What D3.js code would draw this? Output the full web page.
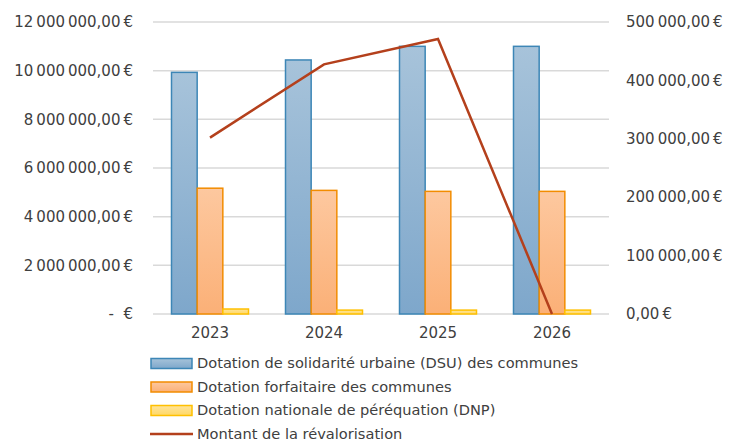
<!DOCTYPE html>
<html>
<head>
<meta charset="utf-8">
<script src="https://cdn.jsdelivr.net/npm/d3@7"></script>
<style>
  body { margin: 0; background: #fff; }
  text { font-family: "DejaVu Sans", sans-serif; fill: #404040; }
</style>
</head>
<body>
<div id="chart"></div>
<script>
var years = ["2023", "2024", "2025", "2026"];
var dsu = [9930000, 10440000, 11000000, 11000000];
var forfaitaire = [5170000, 5080000, 5040000, 5040000];
var dnp = [205000, 160000, 160000, 160000];
var revalo = [302000, 427500, 471000, 0];
var leftTicks = [0, 2000000, 4000000, 6000000, 8000000, 10000000, 12000000];
var rightTicks = [0, 100000, 200000, 300000, 400000, 500000];
var seriesNames = [
  "Dotation de solidarité urbaine (DSU) des communes",
  "Dotation forfaitaire des communes",
  "Dotation nationale de péréquation (DNP)",
  "Montant de la révalorisation"
];

var width = 731, height = 443;
var margin = { top: 22, right: 122, bottom: 129, left: 153 };
var plotW = width - margin.left - margin.right,
    plotH = height - margin.top - margin.bottom;

var svg = d3.select("#chart").append("svg")
    .attr("width", width)
    .attr("height", height);

var defs = svg.append("defs");
var grads = [
  { id: "gBlue", top: "#a7c3da", bot: "#7ea7cb" },
  { id: "gOrange", top: "#fdc89f", bot: "#fbb077" },
  { id: "gYellow", top: "#ffe49a", bot: "#ffd866" }
];
grads.forEach(function (g) {
  var lg = defs.append("linearGradient").attr("id", g.id)
      .attr("x1", 0).attr("y1", 0).attr("x2", 0).attr("y2", 1);
  lg.append("stop").attr("offset", "0%").attr("stop-color", g.top);
  lg.append("stop").attr("offset", "100%").attr("stop-color", g.bot);
});
var strokes = ["#3d86b6", "#f28c00", "#ffc000"];

var g = svg.append("g")
    .attr("transform", "translate(" + margin.left + "," + margin.top + ")");

var x = d3.scaleBand().domain(years).range([0, plotW]).paddingInner(0).paddingOuter(0);
var xs = d3.scaleBand().domain([0, 1, 2]).range([0, 77]);
var yL = d3.scaleLinear().domain([0, 12000000]).range([plotH, 0]);
var yR = d3.scaleLinear().domain([0, 500000]).range([plotH, 0]);

var fmt = function (v) {
  var s = d3.format(",.2f")(v);
  return s.replace(/,/g, "\u202f").replace(".", ",") + "\u202f€";
};

// gridlines
g.selectAll(".grid").data(leftTicks).enter().append("line")
    .attr("x1", 0).attr("x2", plotW)
    .attr("y1", function (d) { return yL(d); })
    .attr("y2", function (d) { return yL(d); })
    .attr("stroke", "#d9d9d9").attr("stroke-width", 1.5);

// left axis labels
g.selectAll(".ly").data(leftTicks).enter().append("text")
    .attr("x", -20)
    .attr("y", function (d) { return yL(d); })
    .attr("dy", "0.35em")
    .attr("text-anchor", "end")
    .style("font-size", "15px")
    .text(function (d) { return d === 0 ? "-\u00a0\u00a0€" : fmt(d); });

// right axis labels
g.selectAll(".ry").data(rightTicks).enter().append("text")
    .attr("x", plotW + 17)
    .attr("y", function (d) { return yR(d); })
    .attr("dy", "0.35em")
    .attr("text-anchor", "start")
    .style("font-size", "15px")
    .text(function (d) { return fmt(d); });

// x labels
g.selectAll(".xl").data(years).enter().append("text")
    .attr("x", function (d) { return x(d) + x.bandwidth() / 2; })
    .attr("y", plotH + 24)
    .attr("text-anchor", "middle")
    .style("font-size", "15px")
    .text(function (d) { return d; });

// bars
var series = [dsu, forfaitaire, dnp];
series.forEach(function (vals, si) {
  g.selectAll(".bar" + si).data(years).enter().append("rect")
      .attr("x", function (d) { return x(d) + (x.bandwidth() - 77) / 2 + xs(si); })
      .attr("y", function (d, i) { return yL(vals[i]); })
      .attr("width", xs.bandwidth())
      .attr("height", function (d, i) { return plotH - yL(vals[i]); })
      .attr("fill", "url(#" + grads[si].id + ")")
      .attr("stroke", strokes[si])
      .attr("stroke-width", 1.5);
});

// line
var line = d3.line()
    .x(function (d, i) { return x(years[i]) + x.bandwidth() / 2; })
    .y(function (d) { return yR(d); });
g.append("path").datum(revalo)
    .attr("d", line)
    .attr("fill", "none")
    .attr("stroke", "#b4401c")
    .attr("stroke-width", 2.5);

// legend
var legend = svg.append("g").attr("transform", "translate(150,363.5)");
seriesNames.forEach(function (name, i) {
  var row = legend.append("g").attr("transform", "translate(0," + (i * 23.5) + ")");
  if (i < 3) {
    row.append("rect").attr("x", 1).attr("y", -5).attr("width", 41).attr("height", 10)
        .attr("fill", "url(#" + grads[i].id + ")")
        .attr("stroke", strokes[i]).attr("stroke-width", 1.5);
  } else {
    row.append("line").attr("x1", 0).attr("x2", 43).attr("y1", 0).attr("y2", 0)
        .attr("stroke", "#b4401c").attr("stroke-width", 2.5);
  }
  row.append("text").attr("x", 47).attr("y", 0).attr("dy", "0.33em")
      .style("font-size", "14.6px")
      .text(name);
});
</script>
</body>
</html>
